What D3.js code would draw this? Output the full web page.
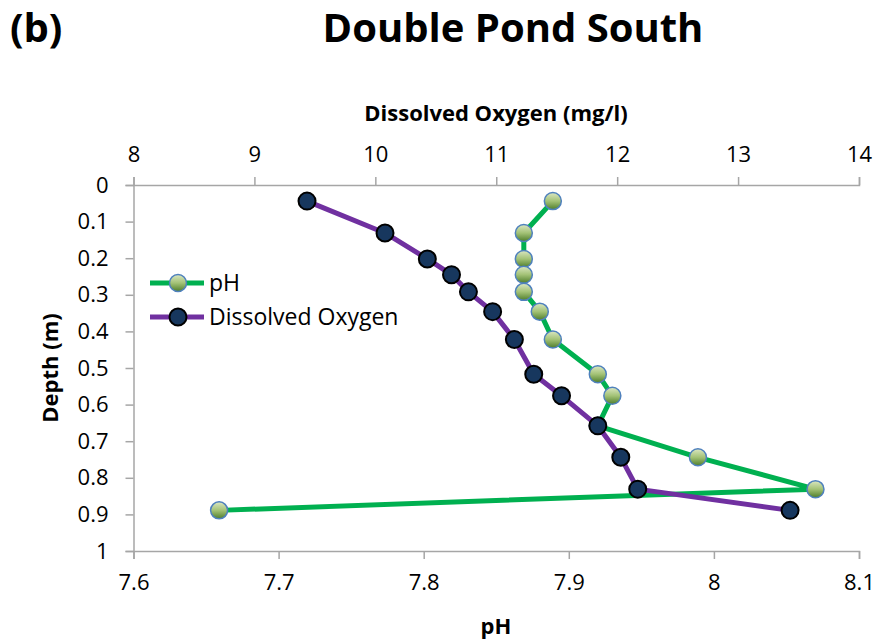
<!DOCTYPE html>
<html>
<head>
<meta charset="utf-8">
<script src="https://cdn.jsdelivr.net/npm/d3@7"></script>
<style>
  body { margin: 0; background: #fff; }
  svg { font-family: "Open Sans", sans-serif; }
</style>
</head>
<body>
<script>
// depth profile, Double Pond South
const depth = [0.044, 0.131, 0.202, 0.245, 0.292, 0.346, 0.422, 0.517, 0.576, 0.658, 0.744, 0.831, 0.889];
const phValues = [7.889, 7.869, 7.869, 7.869, 7.869, 7.880, 7.889, 7.920, 7.930, 7.920, 7.989, 8.070, 7.659];
const doValues = [9.435, 10.08, 10.43, 10.63, 10.77, 10.97, 11.15, 11.31, 11.54, 11.84, 12.03, 12.17, 13.43];

const phTicks = [7.6, 7.7, 7.8, 7.9, 8, 8.1];
const doTicks = [8, 9, 10, 11, 12, 13, 14];
const depthTicks = [0, 0.1, 0.2, 0.3, 0.4, 0.5, 0.6, 0.7, 0.8, 0.9, 1];
const seriesNames = ["pH", "Dissolved Oxygen"];

const width = 878, height = 641;
const margin = {top: 185, right: 19, bottom: 90, left: 133.5};

const svg = d3.select("body").append("svg")
    .attr("width", width)
    .attr("height", height);

const xPh = d3.scaleLinear().domain([7.6, 8.1]).range([margin.left, width - margin.right]);
const xDo = d3.scaleLinear().domain([8, 14]).range([margin.left, width - margin.right]);
const y = d3.scaleLinear().domain([0, 1]).range([margin.top, height - margin.bottom]);

const defs = svg.append("defs");
const grad = defs.append("linearGradient")
    .attr("id", "phGrad")
    .attr("x1", 0).attr("y1", 0).attr("x2", 0).attr("y2", 1);
grad.append("stop").attr("offset", "0%").attr("stop-color", "#dbe7c3");
grad.append("stop").attr("offset", "50%").attr("stop-color", "#a3c276");
grad.append("stop").attr("offset", "100%").attr("stop-color", "#4e7d2b");

const axisColor = "#a6a6a6";
const fmt = d => d3.format("")(d);

function styleAxis(g) {
    g.select(".domain").attr("stroke", axisColor).attr("stroke-width", 1.5);
    g.selectAll(".tick line").attr("stroke", axisColor).attr("stroke-width", 1.5);
    g.selectAll(".tick text").attr("fill", "#000").style("font-size", "22px")
        .style("font-family", "'Open Sans', sans-serif");
}

// top axis: dissolved oxygen
svg.append("g")
    .attr("transform", `translate(0,${margin.top})`)
    .call(d3.axisTop(xDo).tickValues(doTicks).tickFormat(fmt).tickSizeInner(8).tickSizeOuter(8).tickPadding(15))
    .call(styleAxis);

// bottom axis: pH
svg.append("g")
    .attr("transform", `translate(0,${height - margin.bottom})`)
    .call(d3.axisBottom(xPh).tickValues(phTicks).tickFormat(fmt).tickSizeInner(8).tickSizeOuter(8).tickPadding(15))
    .call(styleAxis);

// left axis: depth
svg.append("g")
    .attr("transform", `translate(${margin.left},0)`)
    .call(d3.axisLeft(y).tickValues(depthTicks).tickFormat(fmt).tickSizeInner(8).tickSizeOuter(8).tickPadding(17))
    .call(styleAxis);

const phData = depth.map((d, i) => ({depth: d, v: phValues[i]}));
const doData = depth.map((d, i) => ({depth: d, v: doValues[i]}));

// pH series
svg.append("path")
    .attr("fill", "none")
    .attr("stroke", "#00b050")
    .attr("stroke-width", 5)
    .attr("stroke-linejoin", "round")
    .attr("d", d3.line().x(d => xPh(d.v)).y(d => y(d.depth))(phData));
svg.append("g").selectAll("circle")
    .data(phData)
    .join("circle")
    .attr("cx", d => xPh(d.v))
    .attr("cy", d => y(d.depth))
    .attr("r", 8.5)
    .attr("fill", "url(#phGrad)")
    .attr("stroke", "#4f81bd")
    .attr("stroke-width", 1.5);

// dissolved oxygen series
svg.append("path")
    .attr("fill", "none")
    .attr("stroke", "#7030a0")
    .attr("stroke-width", 5)
    .attr("stroke-linejoin", "round")
    .attr("d", d3.line().x(d => xDo(d.v)).y(d => y(d.depth))(doData));
svg.append("g").selectAll("circle")
    .data(doData)
    .join("circle")
    .attr("cx", d => xDo(d.v))
    .attr("cy", d => y(d.depth))
    .attr("r", 8.5)
    .attr("fill", "#17375e")
    .attr("stroke", "#000")
    .attr("stroke-width", 2);

// legend
const legend = svg.append("g").attr("transform", "translate(150,283)");
seriesNames.forEach((name, i) => {
    const g = legend.append("g").attr("transform", `translate(0,${i * 34})`);
    g.append("line")
        .attr("x1", 0).attr("x2", 54)
        .attr("stroke", i === 0 ? "#00b050" : "#7030a0")
        .attr("stroke-width", 5);
    g.append("circle")
        .attr("cx", 28).attr("r", 8.5)
        .attr("fill", i === 0 ? "url(#phGrad)" : "#17375e")
        .attr("stroke", i === 0 ? "#4f81bd" : "#000")
        .attr("stroke-width", i === 0 ? 1.5 : 2);
    g.append("text")
        .attr("x", 59).attr("dy", "0.35em")
        .style("font-size", "23px")
        .text(name);
});

// titles
svg.append("text")
    .attr("x", 513).attr("y", 42)
    .attr("text-anchor", "middle")
    .style("font-size", "40px").style("font-weight", "bold")
    .text("Double Pond South");
svg.append("text")
    .attr("x", 10).attr("y", 42)
    .style("font-size", "40px").style("font-weight", "bold")
    .text("(b)");
svg.append("text")
    .attr("x", 496).attr("y", 113).attr("dy", "0.35em")
    .attr("text-anchor", "middle")
    .style("font-size", "22px").style("font-weight", "bold")
    .text("Dissolved Oxygen (mg/l)");
svg.append("text")
    .attr("x", 496).attr("y", 626).attr("dy", "0.35em")
    .attr("text-anchor", "middle")
    .style("font-size", "22px").style("font-weight", "bold")
    .text("pH");
svg.append("text")
    .attr("transform", "translate(50,368) rotate(-90)")
    .attr("dy", "0.35em")
    .attr("text-anchor", "middle")
    .style("font-size", "22px").style("font-weight", "bold")
    .text("Depth (m)");
</script>
</body>
</html>
